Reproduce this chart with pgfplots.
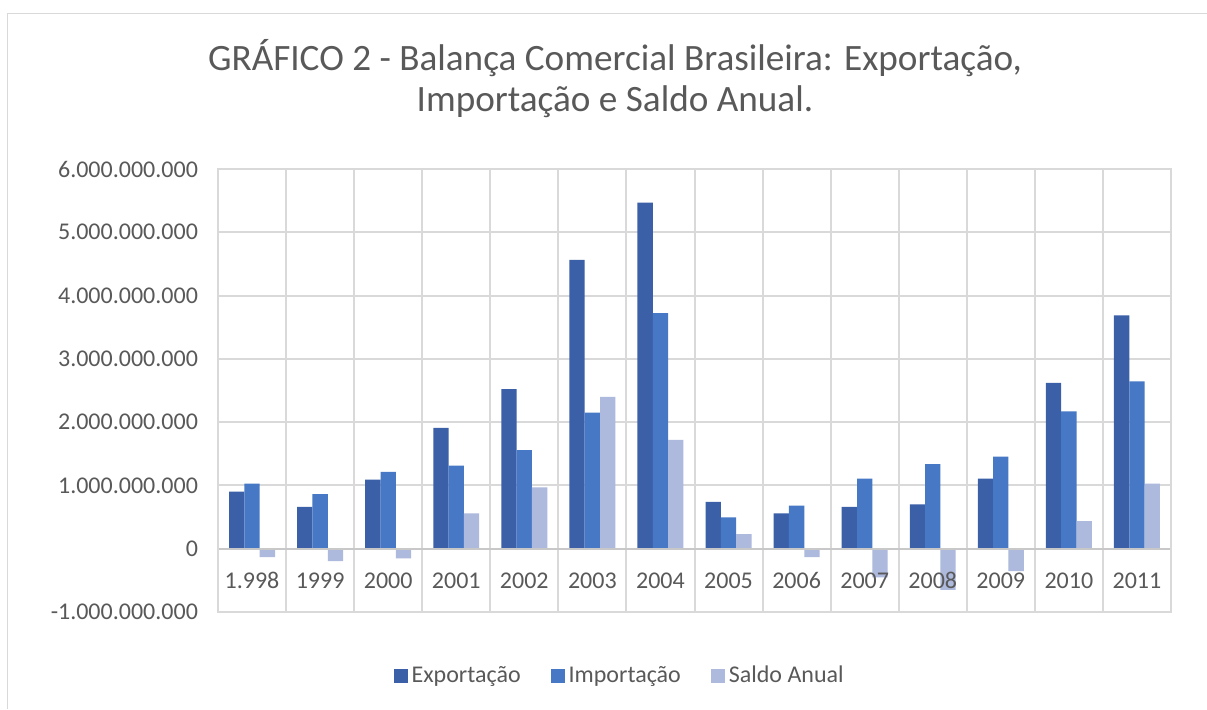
\documentclass[border=0pt]{standalone}
\usepackage{fontspec}
\setmainfont{Carlito}
\usepackage{pgfplots}
\pgfplotsset{compat=1.18}
\definecolor{expc}{HTML}{3B60A8}
\definecolor{impc}{HTML}{4778C6}
\definecolor{salc}{HTML}{ADB9DD}
\definecolor{txt}{HTML}{595959}
\definecolor{grd}{HTML}{D9D9D9}
\definecolor{zer}{HTML}{C8C8C8}
\begin{document}
\begin{tikzpicture}
\path[use as bounding box] (0,0) rectangle (603.5pt,354.5pt);
\fill[white] (0,0) rectangle (603.5pt,354.5pt);
\draw[grd, line width=0.8pt] (3.75pt,0) -- (3.75pt,347.8pt) -- (603.5pt,347.8pt);
\node[anchor=base, text=txt, inner sep=0pt, font=\fontsize{18.6}{22}\selectfont] at (307.5pt,319.5pt) {GRÁFICO 2 - Balança Comercial Brasileira: Exportação,};
\node[anchor=base, text=txt, inner sep=0pt, font=\fontsize{18.6}{22}\selectfont] at (307.5pt,298.5pt) {Importação e Saldo Anual.};
\begin{axis}[
  axis on top,
  scale only axis, width=476.5pt, height=221.5pt,
  at={(109pt,48.5pt)}, anchor=south west,
  xmin=-0.5, xmax=13.5, ymin=-1000000000, ymax=6000000000,
  xtick={0,...,13},
  xticklabels={1.998,1999,2000,2001,2002,2003,2004,2005,2006,2007,2008,2009,2010,2011},
  ytick={-1000000000,0,1000000000,2000000000,3000000000,4000000000,5000000000,6000000000},
  scaled y ticks=false,
  /pgf/number format/.cd, fixed, precision=0, 1000 sep={.}, assume math mode=true,
  /pgfplots/.cd,
  axis line style={grd, line width=1pt},
  major tick length=0pt, minor tick length=0pt,
  tick label style={font=\fontsize{12}{14}\selectfont, text=txt},
  xticklabel style={anchor=center, yshift=15.75pt},
  yticklabel style={anchor=east, xshift=-6.5pt},
  ybar=0pt, bar width=0.225,
  legend style={at={(0.4225,-0.1445)}, anchor=center, draw=none, fill=none,
    legend columns=3, font=\fontsize{12}{14}\selectfont, text=txt,
    /tikz/every even column/.append style={column sep=13pt}},
  legend image code/.code={\fill[#1] (0pt,-3.5pt) rectangle (7pt,3.5pt);},
]
% grid lines (behind bars)
\pgfplotsinvokeforeach{0.5,1.5,2.5,3.5,4.5,5.5,6.5,7.5,8.5,9.5,10.5,11.5,12.5}{
  \draw[grd, line width=1pt] (axis cs:#1,-1000000000) -- (axis cs:#1,6000000000);
}
\pgfplotsinvokeforeach{1000000000,2000000000,3000000000,4000000000,5000000000}{
  \draw[grd, line width=1pt] (axis cs:-0.5,#1) -- (axis cs:13.5,#1);
}
\addplot[fill=expc, draw=none, bar shift=-0.225] coordinates {
(0,904000000) (1,660000000) (2,1090000000) (3,1910000000) (4,2520000000) (5,4564000000) (6,5468000000)
(7,739000000) (8,559000000) (9,660000000) (10,702000000) (11,1106000000) (12,2622000000) (13,3686000000)};
\addlegendentry{Exportação}
\addplot[fill=impc, draw=none, bar shift=0] coordinates {
(0,1027000000) (1,862000000) (2,1213000000) (3,1314000000) (4,1559000000) (5,2149000000) (6,3723000000)
(7,495000000) (8,681000000) (9,1106000000) (10,1335000000) (11,1457000000) (12,2170000000) (13,2644000000)};
\addlegendentry{Importação}
\addplot[fill=salc, draw=none, bar shift=0.225] coordinates {
(0,-133000000) (1,-197000000) (2,-154000000) (3,559000000) (4,968000000) (5,2400000000) (6,1718000000)
(7,229000000) (8,-133000000) (9,-452000000) (10,-649000000) (11,-356000000) (12,436000000) (13,1027000000)};
\addlegendentry{Saldo Anual}
\draw[zer, line width=1pt] (axis cs:-0.5,0) -- (axis cs:13.5,0);
\end{axis}
\end{tikzpicture}
\end{document}
